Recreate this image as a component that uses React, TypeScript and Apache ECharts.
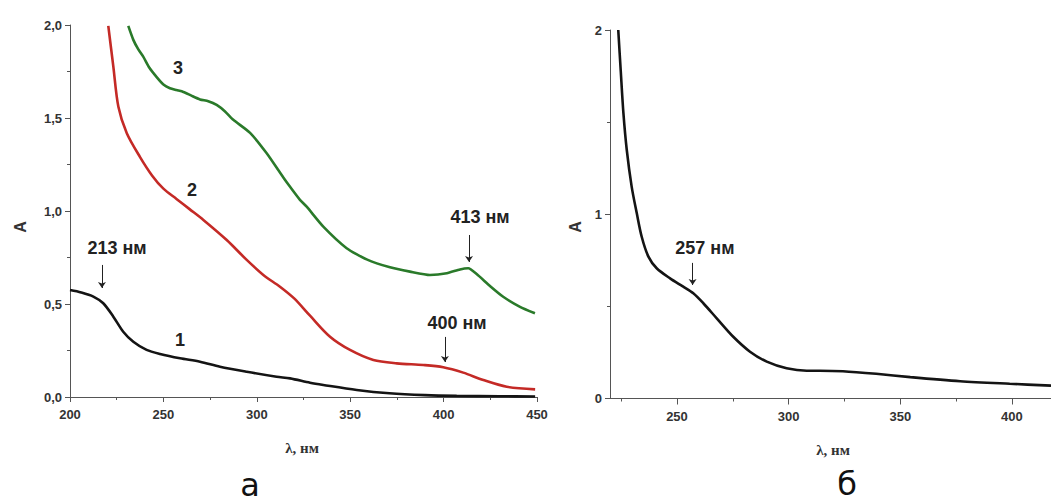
import React, { useEffect, useRef } from "react";
import * as echarts from "echarts";

// Panel а — curve 1 (black)
const lam1 = [200, 206, 212.5, 217.8, 223.2, 228.5, 233.9, 241, 248.2, 258.9, 269.6, 280.3, 294.6, 310.6, 317.8, 328.5, 335.6, 353.5, 371, 390, 407, 430, 449];
const abs1 = [0.575, 0.562, 0.54, 0.504, 0.432, 0.351, 0.297, 0.253, 0.231, 0.208, 0.19, 0.163, 0.136, 0.109, 0.1, 0.077, 0.065, 0.038, 0.02, 0.01, 0.006, 0.004, 0.003];
// curve 2 (red)
const lam2 = [220.5, 223.2, 225.9, 230.4, 237.5, 244, 250, 257, 264, 271.4, 283.9, 294.6, 303.5, 312.4, 320, 328.5, 339.2, 349.9, 362.4, 374.9, 389.1, 399.8, 410.5, 421.3, 433.8, 449];
const abs2 = [1.995, 1.776, 1.56, 1.418, 1.29, 1.19, 1.12, 1.065, 1.01, 0.952, 0.844, 0.737, 0.656, 0.593, 0.53, 0.437, 0.324, 0.253, 0.199, 0.181, 0.172, 0.16, 0.131, 0.091, 0.055, 0.041];
// curve 3 (green)
const lam3 = [231.2, 233.9, 236.5, 239.2, 242.5, 246.4, 250, 253.5, 257, 260.7, 265, 269.6, 274, 278.5, 283, 287.4, 296.4, 305.3, 314.2, 317.8, 323.1, 326.7, 335.6, 348.1, 358.8, 371.3, 382, 392.7, 401.7, 408.8, 413.2, 417.7, 424.8, 431.9, 440.9, 448.9];
const abs3 = [1.995, 1.92, 1.87, 1.83, 1.77, 1.72, 1.68, 1.66, 1.65, 1.64, 1.62, 1.6, 1.59, 1.57, 1.535, 1.49, 1.42, 1.31, 1.18, 1.13, 1.06, 1.023, 0.916, 0.8, 0.74, 0.697, 0.674, 0.656, 0.665, 0.686, 0.692, 0.661, 0.597, 0.539, 0.485, 0.45];
// Panel б
const lamB = [223.7, 224.8, 226, 227.5, 229.7, 232, 234.2, 237.2, 240.9, 246.9, 252.8, 257.3, 261.8, 267.8, 275.2, 282.7, 290.2, 299.1, 308.1, 314, 324.3, 339.2, 354.5, 376.8, 399, 417.5];
const absB = [2.0, 1.78, 1.55, 1.35, 1.15, 1.005, 0.878, 0.77, 0.707, 0.652, 0.607, 0.571, 0.517, 0.435, 0.335, 0.254, 0.2, 0.164, 0.151, 0.151, 0.148, 0.134, 0.116, 0.094, 0.08, 0.07];

const xMajorB = [250, 300, 350, 400];
const xMinorB = [225, 275, 325, 375];

// annotations: [text, x, y]
const labelsA = [
  ["213 нм", 225.2, 0.8],
  ["1", 258.9, 0.306],
  ["2", 265.3, 1.113],
  ["3", 257.8, 1.769],
  ["413 нм", 419.5, 0.968],
  ["400 нм", 407.2, 0.398],
];
const arrowsA = [
  [217.1, 0.71, 0.586],
  [413.6, 0.871, 0.726],
  [400.7, 0.323, 0.188],
];
const labelsB = [["257 нм", 262.5, 0.817]];
const arrowsB = [[257, 0.736, 0.616]];

const zip = (a: number[], b: number[]) => a.map((v, i) => [v, b[i]]);

const AX = "#555";
const labelStyle = { color: "#333", fontFamily: "Liberation Sans", fontWeight: "bold" as const, fontSize: 13 };
const annFont = { color: "#222", fontFamily: "Liberation Sans", fontWeight: "bold" as const, fontSize: 18 };

function markPts(list: any[]) {
  return {
    silent: true,
    symbol: "circle",
    symbolSize: 1,
    itemStyle: { color: "transparent" },
    label: { show: true, position: "inside", ...annFont, formatter: (p: any) => p.name },
    data: list.map((l) => ({ name: l[0], coord: [l[1], l[2]] })),
  };
}
function markArrows(list: any[]) {
  return {
    silent: true,
    symbol: ["none", "arrow"],
    symbolSize: 6,
    label: { show: false },
    lineStyle: { color: "#222", width: 1, type: "solid" as const },
    data: list.map((a) => [{ coord: [a[0], a[1]] }, { coord: [a[0], a[2]] }]),
  };
}

export default function App() {
  const ref = useRef<HTMLDivElement>(null);
  useEffect(() => {
    if (!ref.current) return;
    const chart = echarts.init(ref.current, null, { renderer: "svg" });
    const axisLine = { show: true, lineStyle: { color: AX, width: 1 } };
    chart.setOption({
      animation: false,
      backgroundColor: "#fff",
      grid: [
        { left: 70, top: 25, width: 467, height: 372 },
        { left: 610, top: 30, width: 441, height: 368.5 },
      ],
      xAxis: [
        {
          gridIndex: 0, type: "value", min: 200, max: 450, interval: 50,
          axisLine, splitLine: { show: false },
          axisTick: { length: 5, lineStyle: { color: AX } },
          minorTick: { show: true, splitNumber: 2, length: 3, lineStyle: { color: AX } },
          axisLabel: { ...labelStyle, margin: 11 },
        },
        {
          gridIndex: 1, type: "value", min: 220, max: 417.5, position: "bottom",
          axisLine, splitLine: { show: false },
          axisTick: { length: 6, lineStyle: { color: AX }, customValues: xMajorB },
          axisLabel: { ...labelStyle, margin: 11, customValues: xMajorB },
        },
        {
          gridIndex: 1, type: "value", min: 220, max: 417.5, position: "bottom",
          axisLine: { show: false }, splitLine: { show: false },
          axisTick: { length: 3, lineStyle: { color: AX }, customValues: xMinorB },
          axisLabel: { show: false },
        },
      ],
      yAxis: [
        {
          gridIndex: 0, type: "value", min: 0, max: 2, interval: 0.5,
          axisLine, splitLine: { show: false },
          axisTick: { show: true, length: 5, lineStyle: { color: AX } },
          minorTick: { show: true, splitNumber: 2, length: 3, lineStyle: { color: AX } },
          axisLabel: { ...labelStyle, margin: 8, formatter: (v: number) => v.toFixed(1).replace(".", ",") },
        },
        {
          gridIndex: 1, type: "value", min: 0, max: 2, interval: 1,
          axisLine, splitLine: { show: false },
          axisTick: { show: true, length: 5, lineStyle: { color: AX } },
          minorTick: { show: true, splitNumber: 2, length: 3, lineStyle: { color: AX } },
          axisLabel: { ...labelStyle, margin: 8 },
        },
      ],
      series: [
        {
          type: "line", xAxisIndex: 0, yAxisIndex: 0, data: zip(lam1, abs1), showSymbol: false, smooth: 0.3,
          lineStyle: { color: "#141414", width: 2.6 }, itemStyle: { color: "#141414" },
          markPoint: markPts(labelsA), markLine: markArrows(arrowsA),
        },
        {
          type: "line", xAxisIndex: 0, yAxisIndex: 0, data: zip(lam2, abs2), showSymbol: false, smooth: 0.3,
          lineStyle: { color: "#c42a26", width: 2.6 },
        },
        {
          type: "line", xAxisIndex: 0, yAxisIndex: 0, data: zip(lam3, abs3), showSymbol: false, smooth: 0.2,
          lineStyle: { color: "#2a7a2a", width: 2.6 },
        },
        {
          type: "line", xAxisIndex: 1, yAxisIndex: 1, data: zip(lamB, absB), showSymbol: false, smooth: 0.3,
          lineStyle: { color: "#141414", width: 2.6 },
          markPoint: markPts(labelsB), markLine: markArrows(arrowsB),
        },
      ],
      graphic: [
        { type: "text", x: 20, y: 227, rotation: Math.PI / 2, style: { text: "А", fill: "#333", font: "bold 16px 'Liberation Sans'", align: "center", verticalAlign: "middle" } },
        { type: "text", x: 575, y: 227, rotation: Math.PI / 2, style: { text: "А", fill: "#333", font: "bold 16px 'Liberation Sans'", align: "center", verticalAlign: "middle" } },
        { type: "text", x: 302, y: 448, style: { text: "λ, нм", fill: "#333", font: "bold 15px 'Liberation Serif'", align: "center", verticalAlign: "middle" } },
        { type: "text", x: 833, y: 450, style: { text: "λ, нм", fill: "#333", font: "bold 15px 'Liberation Serif'", align: "center", verticalAlign: "middle" } },
        { type: "text", x: 250, y: 485, style: { text: "а", fill: "#111", font: "32px 'DejaVu Sans'", align: "center", verticalAlign: "middle" } },
        { type: "text", x: 847, y: 484, style: { text: "б", fill: "#111", font: "32px 'DejaVu Sans'", align: "center", verticalAlign: "middle" } },
      ],
    });
    return () => chart.dispose();
  }, []);
  return <div ref={ref} style={{ position: "fixed", left: 0, top: 0, width: 1051, height: 503, background: "#fff" }} />;
}
